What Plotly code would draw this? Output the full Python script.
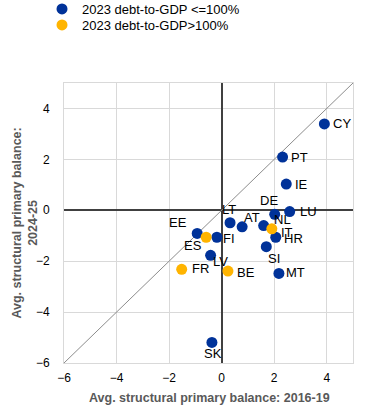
import plotly.graph_objects as go

# Data: (country, x=2016-19 avg, y=2024-25 avg)
low_names = ["CY", "PT", "IE", "LU", "DE", "LT", "AT", "NL", "HR", "SI", "MT", "LV", "FI", "EE", "SK"]
low_x = [3.91, 2.32, 2.46, 2.59, 2.02, 0.32, 0.78, 1.60, 2.06, 1.70, 2.18, -0.42, -0.18, -0.93, -0.37]
low_y = [3.39, 2.09, 1.03, -0.05, -0.16, -0.49, -0.65, -0.60, -1.06, -1.43, -2.48, -1.77, -1.06, -0.91, -5.19]

high_names = ["IT", "BE", "FR", "ES"]
high_x = [1.91, 0.24, -1.52, -0.59]
high_y = [-0.73, -2.39, -2.32, -1.06]

diag = [-6, 5]

x_title = "Avg. structural primary balance: 2016-19"
y_title = "Avg. structural primary balance:<br>2024-25"

# label offsets in pixels (dx, dy) relative to point center (dy positive = up)
label_offsets = {
    "CY": (18, 0), "PT": (17, 0), "IE": (15, 0), "LU": (19, 0),
    "DE": (-6, 14), "LT": (-1, 13), "AT": (10, 9), "NL": (19, 6),
    "HR": (18, -1), "SI": (8, -12), "MT": (17, 1), "LV": (10, -6),
    "FI": (12, -1), "EE": (-19, 11), "SK": (1, -11),
    "IT": (15, -4), "BE": (18, -1), "FR": (19, 1), "ES": (-13, -8),
}

BLUE = "#003299"
YELLOW = "#FFB400"
FONT = "Arial, Liberation Sans, sans-serif"

W, H = 371, 406
L, R, T, B = 63.5, 18, 82.5, 43
PW, PH = W - L - R, H - T - B

fig = go.Figure()
fig.add_trace(go.Scatter(x=diag, y=diag, mode="lines",
                         line=dict(color="#8C8C8C", width=1),
                         showlegend=False, hoverinfo="skip"))
fig.add_trace(go.Scatter(x=low_x, y=low_y, mode="markers", name="2023 debt-to-GDP <=100%",
                         marker=dict(color=BLUE, size=11), text=low_names, legend="legend"))
fig.add_trace(go.Scatter(x=high_x, y=high_y, mode="markers", name="2023 debt-to-GDP>100%",
                         marker=dict(color=YELLOW, size=11), text=high_names, legend="legend2"))

for names, xs, ys in [(low_names, low_x, low_y), (high_names, high_x, high_y)]:
    for n, x, y in zip(names, xs, ys):
        dx, dy = label_offsets[n]
        fig.add_annotation(x=x, y=y, text=n, showarrow=False, xshift=dx, yshift=dy,
                           font=dict(family=FONT, size=13, color="#000000"))

# axis titles
fig.add_annotation(xref="paper", yref="paper", x=(209 - L) / PW, y=-(398 - (T + PH)) / PH,
                   text="<b>" + x_title + "</b>", showarrow=False, xanchor="center", yanchor="middle",
                   font=dict(family=FONT, size=12.5, color="#595959"))
fig.add_annotation(xref="paper", yref="paper", x=-(L - 24) / PW, y=0.5,
                   text="<b>" + y_title + "</b>", showarrow=False, xanchor="center", yanchor="middle",
                   textangle=-90, font=dict(family=FONT, size=12.5, color="#595959"))

axis_common = dict(
    showgrid=True, gridcolor="#D9D9D9", gridwidth=1,
    zeroline=True, zerolinecolor="#404040", zerolinewidth=2,
    showline=True, linecolor="#D9D9D9", linewidth=1, mirror=True,
    ticks="", tickfont=dict(family=FONT, size=12, color="#000000"),
    dtick=2, automargin=False,
)

legend_common = dict(xref="container", yref="container", xanchor="left", yanchor="middle",
                     font=dict(family=FONT, size=13, color="#000000"),
                     itemwidth=30, bgcolor="rgba(0,0,0,0)", borderwidth=0)

fig.update_layout(
    width=W, height=H,
    margin=dict(l=L, r=R, t=T, b=B, autoexpand=False),
    plot_bgcolor="white", paper_bgcolor="white",
    xaxis=dict(range=[-6, 5], tick0=-6, ticklabelstandoff=4, **axis_common),
    yaxis=dict(range=[-6, 5], tick0=-6, ticklabelstandoff=11, **axis_common),
    legend=dict(x=42 / W, y=1 - 9 / H, **legend_common),
    legend2=dict(x=42 / W, y=1 - 25 / H, **legend_common),
    font=dict(family=FONT),
)

fig.write_html("out.html", config={"displayModeBar": False},
               post_script="document.body.style.margin='0';")
